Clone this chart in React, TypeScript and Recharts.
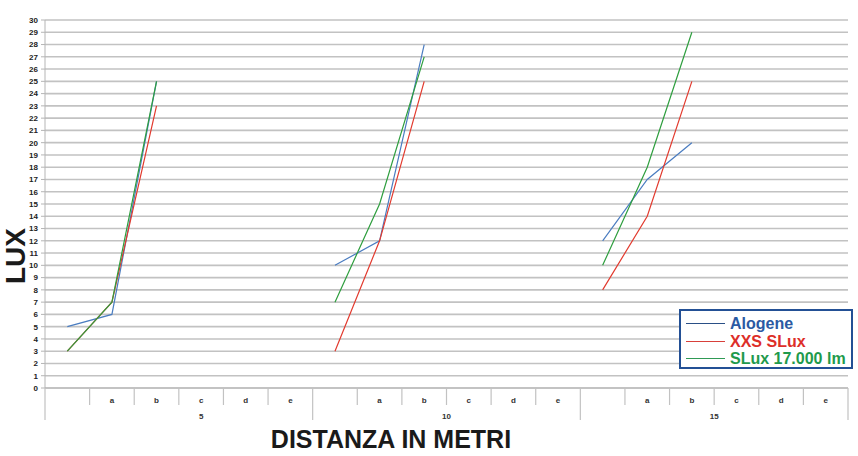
import { LineChart, Line, XAxis, YAxis, CartesianGrid } from 'recharts';

// x slots: each distance group has an unlabelled slot followed by a..e
const groups = ['5', '10', '15'];
const slotLetters = ['', 'a', 'b', 'c', 'd', 'e'];
const yTicks = [0, 1, 2, 3, 4, 5, 6, 7, 8, 9, 10, 11, 12, 13, 14, 15, 16, 17, 18, 19, 20, 21, 22, 23, 24, 25, 26, 27, 28, 29, 30];

const alogene = [5, 6, 25, null, null, null, 10, 12, 28, null, null, null, 12, 17, 20, null, null, null];
const xxsSlux = [3, 7, 23, null, null, null, 3, 12, 25, null, null, null, 8, 14, 25, null, null, null];
const slux17000 = [3, 7, 25, null, null, null, 7, 15, 27, null, null, null, 10, 18, 29, null, null, null];

const seriesNames = ['Alogene', 'XXS SLux', 'SLux 17.000 lm'];

const data = groups.flatMap((g, gi) =>
  slotLetters.map((letter, si) => {
    const i = gi * 6 + si;
    return {
      slot: `${g}|${letter}|${si}`,
      group: g,
      letter,
      alogene: alogene[i],
      xxs: xxsSlux[i],
      slux: slux17000[i],
    };
  })
);

const W = 858;
const H = 456;
const MARGIN = { top: 20, right: 10, left: 0, bottom: 0 };
const Y_W = 45;
const X_H = 68;
const BAND = (W - MARGIN.right - Y_W) / data.length;
const AXIS_Y = H - X_H;

const FONT = '"Liberation Sans", Arial, sans-serif';
const GRID = '#c2c2c2';

const SlotTick = (props: any) => {
  const { x, index } = props;
  const row = data[index];
  if (!row) return null;
  const si = index % 6;
  const left = x - BAND / 2;
  return (
    <g>
      {si === 0 ? (
        <line x1={left} x2={left} y1={AXIS_Y} y2={AXIS_Y + 32} stroke={GRID} strokeWidth={1.2} />
      ) : (
        <line x1={left} x2={left} y1={AXIS_Y} y2={AXIS_Y + 17} stroke={GRID} strokeWidth={1.2} />
      )}
      {index === data.length - 1 && (
        <line x1={x + BAND / 2} x2={x + BAND / 2} y1={AXIS_Y} y2={AXIS_Y + 32} stroke={GRID} strokeWidth={1.2} />
      )}
      {row.letter && (
        <text x={x} y={AXIS_Y + 15} textAnchor="middle" fontSize={8} fontWeight="bold" fill="#333" fontFamily={FONT}>
          {row.letter}
        </text>
      )}
      {si === 3 && (
        <text
          x={index === 3 ? x : left}
          y={AXIS_Y + 31}
          textAnchor="middle"
          fontSize={8}
          fontWeight="bold"
          fill="#333"
          fontFamily={FONT}
        >
          {row.group}
        </text>
      )}
    </g>
  );
};

const legendColors = ['#2b5aa3', '#dd2e28', '#1f9a4c'];
const legendLines = ['#2a4f86', '#d8403a', '#2f9a55'];

const LegendBox = () => (
  <div
    style={{
      position: 'absolute',
      left: 679,
      top: 309,
      border: '2px solid #235095',
      background: '#fff',
      width: 174,
      height: 60,
      boxSizing: 'border-box',
      padding: '4px 0 0 5px',
      fontFamily: FONT,
    }}
  >
    {seriesNames.map((name, i) => (
      <div key={name} style={{ display: 'flex', alignItems: 'center', height: 17.5 }}>
        <div style={{ width: 39, height: 1.3, background: legendLines[i], marginRight: 5 }} />
        <span style={{ color: legendColors[i], fontSize: 16, fontWeight: 'bold', lineHeight: '17px', whiteSpace: 'nowrap' }}>
          {name}
        </span>
      </div>
    ))}
  </div>
);

export default function App() {
  return (
    <div style={{ position: 'absolute', left: 0, top: 0, width: W, height: H, background: '#fff' }}>
      <LineChart width={W} height={H} data={data} margin={MARGIN}>
        <CartesianGrid horizontal vertical={false} stroke={GRID} strokeWidth={1.6} />
        <XAxis
          dataKey="slot"
          scale="band"
          height={X_H}
          interval={0}
          tickLine={false}
          axisLine={{ stroke: '#b5b5b5' }}
          tick={<SlotTick />}
          label={{
            content: () => (
              <text x={391} y={448} textAnchor="middle" fontSize={25} fontWeight="bold" fill="#1a1a1a" fontFamily={FONT}>
                DISTANZA IN METRI
              </text>
            ),
          }}
        />
        <YAxis
          width={Y_W}
          domain={[0, 30]}
          ticks={yTicks}
          interval={0}
          tickSize={4}
          tickMargin={3}
          tickLine={{ stroke: '#b5b5b5' }}
          axisLine={{ stroke: '#b5b5b5' }}
          tick={{ fontSize: 8, fontWeight: 'bold', fill: '#222', fontFamily: FONT }}
          label={{
            content: () => (
              <text
                x={25}
                y={256}
                transform="rotate(-90 25 256)"
                textAnchor="middle"
                fontSize={28}
                fontWeight="bold"
                fill="#1a1a1a"
                fontFamily={FONT}
              >
                LUX
              </text>
            ),
          }}
        />
        <Line dataKey="alogene" name={seriesNames[0]} stroke="#4a7cc0" strokeWidth={1.2} dot={false} isAnimationActive={false} />
        <Line dataKey="xxs" name={seriesNames[1]} stroke="#e23a2e" strokeWidth={1.2} dot={false} isAnimationActive={false} />
        <Line dataKey="slux" name={seriesNames[2]} stroke="#2e9e3e" strokeWidth={1.2} dot={false} isAnimationActive={false} />
      </LineChart>
      <LegendBox />
    </div>
  );
}
